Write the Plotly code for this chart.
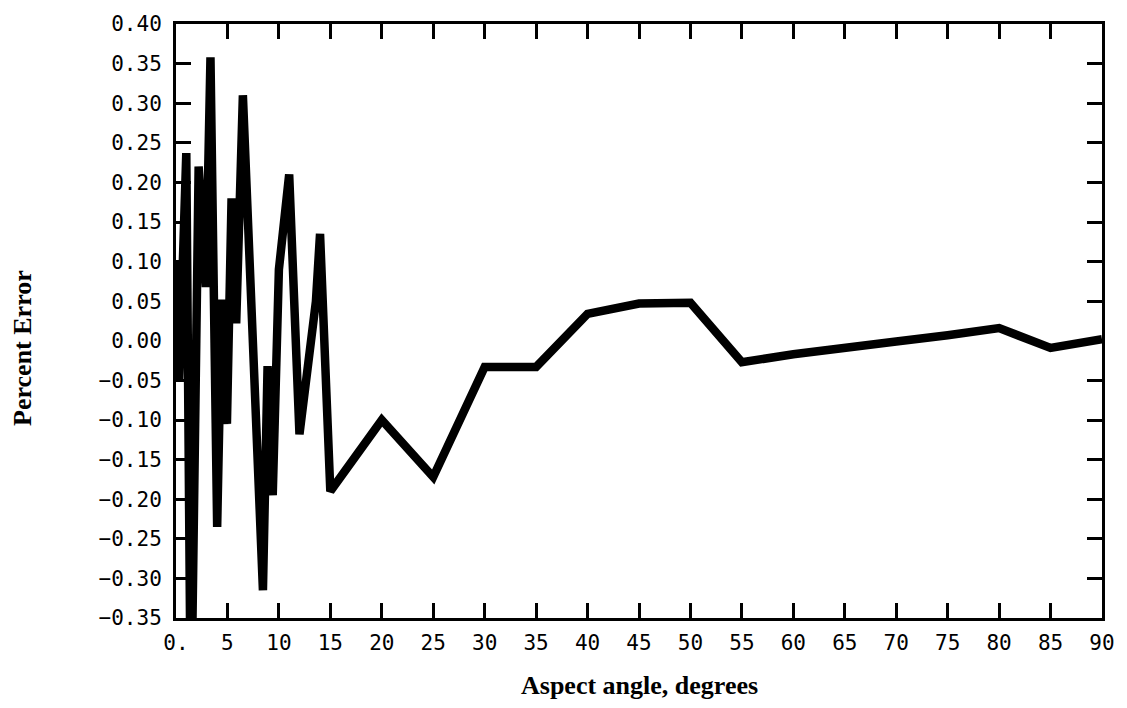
import plotly.graph_objects as go

# Data
angle = [0, 0.3, 1.0, 1.45, 2.2, 2.9, 3.35, 4.0, 4.45, 4.95, 5.4, 5.85, 6.5,
         8.45, 8.9, 9.4, 10.0, 11.0, 12.0, 13.6, 14.0,
         15, 20, 25, 30, 35, 40, 45, 50, 55, 60, 65, 70, 75, 80, 85, 90]
pct_error = [0.10, -0.05, 0.237, -0.50, 0.22, 0.068, 0.358, -0.235, 0.052, -0.105, 0.18, 0.022, 0.31,
             -0.315, -0.032, -0.195, 0.09, 0.21, -0.118, 0.05, 0.135,
             -0.19, -0.10, -0.172, -0.033, -0.033, 0.034, 0.047, 0.048, -0.027, -0.017, -0.008,
             -0.001, 0.007, 0.016, -0.009, 0.002]

x_tickvals = [0, 5, 10, 15, 20, 25, 30, 35, 40, 45, 50, 55, 60, 65, 70, 75, 80, 85, 90]
x_ticktext = ["0."] + [str(v) for v in x_tickvals[1:]]
y_tickvals = [0.40, 0.35, 0.30, 0.25, 0.20, 0.15, 0.10, 0.05, 0.00,
              -0.05, -0.10, -0.15, -0.20, -0.25, -0.30, -0.35]
y_ticktext = [("%.2f" % v).replace("-", "\u2212") for v in y_tickvals]

fig = go.Figure()
fig.add_trace(go.Scatter(x=angle, y=pct_error, mode="lines",
                         line=dict(color="black", width=8.5), showlegend=False,
                         hoverinfo="skip"))

tickfont = dict(family="DejaVu Sans Mono", size=21, color="black")
axis_common = dict(showgrid=False, zeroline=False, showline=True, linecolor="black",
                   linewidth=3, mirror="ticks", ticks="inside", ticklen=15,
                   tickwidth=3, tickcolor="black", tickfont=tickfont)

fig.update_layout(
    width=1127, height=708,
    margin=dict(l=176, r=19, t=14, b=90),
    paper_bgcolor="white", plot_bgcolor="white",
    xaxis=dict(range=[0, 90], tickvals=x_tickvals, ticktext=x_ticktext,
               ticklabelstandoff=4, **axis_common),
    yaxis=dict(range=[-0.35, 0.40], tickvals=y_tickvals, ticktext=y_ticktext,
               ticklabelstandoff=7, ticklabeloverflow="allow", **axis_common),
    annotations=[
        dict(text="<b>Aspect angle, degrees</b>", xref="paper", yref="paper", x=0.5, y=-0.114,
             xanchor="center", yanchor="middle", showarrow=False,
             font=dict(family="Liberation Serif", size=26, color="black")),
        dict(text="<b>Percent Error</b>", xref="paper", yref="paper", x=-0.165, y=0.455,
             xanchor="center", yanchor="middle", textangle=-90, showarrow=False,
             font=dict(family="Liberation Serif", size=26, color="black")),
    ],
)

fig.write_html("out.html", config={"displayModeBar": False},
               post_script="document.body.style.margin='0px';")
